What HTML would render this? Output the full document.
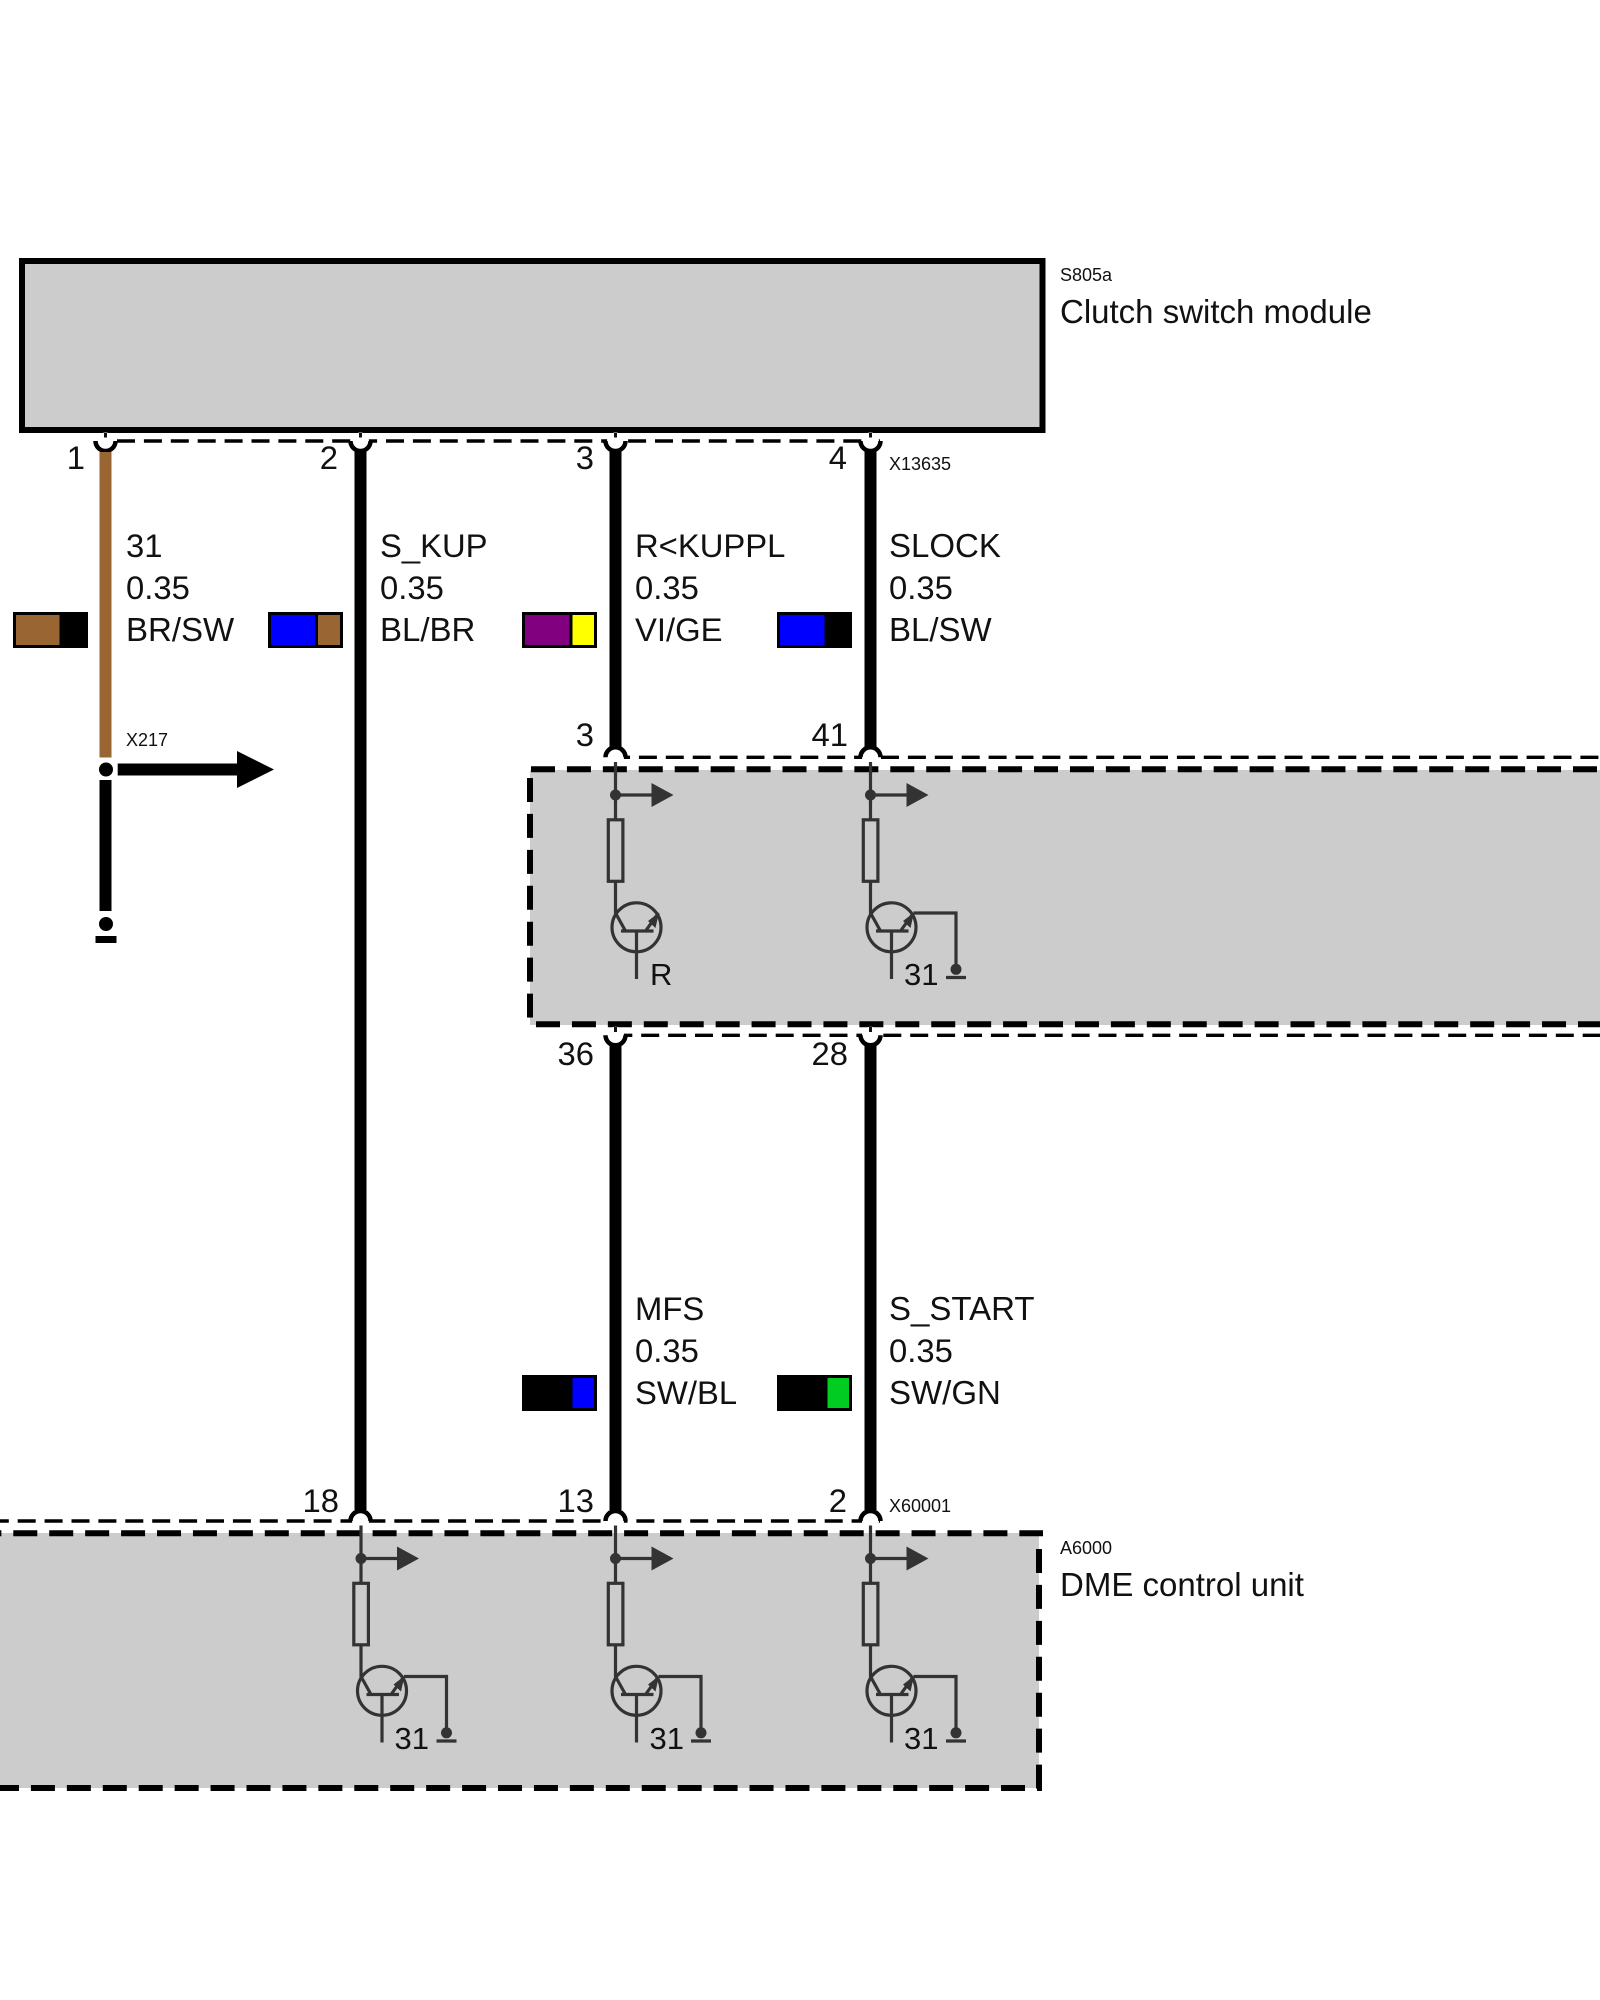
<!DOCTYPE html>
<html><head><meta charset="utf-8"><title>Clutch switch wiring</title>
<style>
html,body{margin:0;padding:0;background:#fff}
svg{display:block}
text{font-family:"Liberation Sans",sans-serif;fill:#111}
.l{font-size:32.8px}.t{font-size:33px}.s{font-size:18px}.m{font-size:31px}.e{text-anchor:end}
</style></head><body>
<svg width="1600" height="2000" viewBox="0 0 1600 2000" xmlns="http://www.w3.org/2000/svg">
<defs>
<g id="ckt" fill="none" stroke="#333" stroke-width="3.2">
  <path d="M0 -33V118L10 136"/>
  <rect x="-7.2" y="24.8" width="14.6" height="61.5" fill="#ccc"/>
  <path d="M0 0H37"/>
  <circle cx="0" cy="0" r="5.5" fill="#333" stroke="none"/>
  <polygon points="36,-12 58,0 36,12" fill="#333" stroke="none"/>
  <circle cx="21" cy="132.3" r="24.5"/>
  <path d="M5.5 136H38M21 136V184M30 136L43 118"/>
  <polygon points="43.5,117.5 32.5,126 40,133" fill="#333" stroke="none"/>
</g>
<g id="gnd" fill="none" stroke="#333" stroke-width="3.2">
  <path d="M43 118H85.5V174"/>
  <circle cx="85.5" cy="174.3" r="5.5" fill="#333" stroke="none"/>
  <path d="M75.5 182.5H95.5"/>
</g>
<g id="arcB"><circle cx="0" cy="0" r="8.5" fill="#fff"/><path d="M-10 0A10 10 0 0 0 10 0" fill="none" stroke="#000" stroke-width="4.5"/></g>
<g id="arcT"><circle cx="0" cy="0" r="8.5" fill="#fff"/><path d="M-10 0A10 10 0 0 1 10 0" fill="none" stroke="#000" stroke-width="4.5"/></g>
</defs>

<rect width="1600" height="2000" fill="#fff"/>

<!-- top module -->
<rect x="22" y="261" width="1020.5" height="169" fill="#ccc" stroke="#000" stroke-width="6"/>

<!-- middle module -->
<rect x="530" y="770" width="1070" height="255" fill="#ccc"/>
<path d="M531 769.3H1600" stroke="#000" stroke-width="6" stroke-dasharray="24 11.93" fill="none"/>
<path d="M530 778V1020" stroke="#000" stroke-width="6" stroke-dasharray="24 11.93" fill="none"/>
<path d="M536 1024.3H1600" stroke="#000" stroke-width="6" stroke-dasharray="24 11.93" fill="none"/>

<!-- bottom module -->
<rect x="0" y="1533" width="1039" height="255" fill="#ccc"/>
<path d="M-22.63 1533.3H1043" stroke="#000" stroke-width="6" stroke-dasharray="24 11.93" fill="none"/>
<path d="M1039 1549V1790" stroke="#000" stroke-width="6" stroke-dasharray="24 11.93" fill="none"/>
<path d="M-5 1788H1042" stroke="#000" stroke-width="6" stroke-dasharray="24 11.93" fill="none"/>

<!-- thin dashed connector lines -->
<g stroke="#000" stroke-width="3.4" fill="none" stroke-dasharray="18 8.9">
  <path d="M117 441H880"/>
  <path d="M612 757.3H1600"/>
  <path d="M614.3 1035.3H1600"/>
  <path d="M-9.2 1521H880"/>
</g>

<!-- arcs -->
<use href="#arcB" x="105.5" y="441"/><use href="#arcB" x="360.5" y="441"/><use href="#arcB" x="615.5" y="441"/><use href="#arcB" x="870.5" y="441"/>
<use href="#arcT" x="615.5" y="757.3"/><use href="#arcT" x="870.5" y="757.3"/>
<use href="#arcB" x="615.5" y="1035.3"/><use href="#arcB" x="870.5" y="1035.3"/>
<use href="#arcT" x="360.5" y="1521"/><use href="#arcT" x="615.5" y="1521"/><use href="#arcT" x="870.5" y="1521"/>

<!-- stubs -->
<g stroke="#111" stroke-width="3">
  <path d="M105.5 433V437.5M360.5 433V437.5M615.5 433V437.5M870.5 433V437.5"/>
  <path d="M615.5 1027V1032M870.5 1027V1032"/>
</g>

<!-- wires -->
<rect x="99.5" y="452" width="12" height="305.5" fill="#996633"/>
<rect x="99.5" y="780" width="12" height="131" fill="#000"/>
<rect x="354.5" y="451" width="12" height="1059" fill="#000"/>
<rect x="609.5" y="451" width="12" height="297" fill="#000"/>
<rect x="864.5" y="451" width="12" height="297" fill="#000"/>
<rect x="609.5" y="1045" width="12" height="465" fill="#000"/>
<rect x="864.5" y="1045" width="12" height="465" fill="#000"/>

<!-- X217 junction -->
<rect x="117.7" y="763.5" width="122" height="12" fill="#000"/>
<polygon points="237,751 274,769.5 237,788" fill="#000"/>
<circle cx="106" cy="769.5" r="7" fill="#000"/>
<circle cx="106" cy="924" r="7" fill="#000"/>
<rect x="95.5" y="936" width="21" height="7" fill="#000"/>

<!-- swatches -->
<g stroke="#000" stroke-width="3">
  <rect x="14.5" y="613.5" width="72" height="33" fill="#996633"/><rect x="61" y="613.5" width="25.5" height="33" fill="#000"/>
  <rect x="269.5" y="613.5" width="72" height="33" fill="#996633"/><rect x="269.5" y="613.5" width="47" height="33" fill="#0000ff"/>
  <rect x="523.5" y="613.5" width="72" height="33" fill="#ffff00"/><rect x="523.5" y="613.5" width="47.5" height="33" fill="#800080"/>
  <rect x="778.5" y="613.5" width="72" height="33" fill="#000"/><rect x="778.5" y="613.5" width="47.5" height="33" fill="#0000ff"/>
  <rect x="523.5" y="1376.5" width="72" height="33" fill="#0000ff"/><rect x="523.5" y="1376.5" width="47.5" height="33" fill="#000"/>
  <rect x="778.5" y="1376.5" width="72" height="33" fill="#00cc22"/><rect x="778.5" y="1376.5" width="47.5" height="33" fill="#000"/>
</g>

<!-- circuits -->
<use href="#ckt" x="615.5" y="795"/>
<use href="#ckt" x="870.5" y="795"/><use href="#gnd" x="870.5" y="795"/>
<use href="#ckt" x="361" y="1558.5"/><use href="#gnd" x="361" y="1558.5"/>
<use href="#ckt" x="615.5" y="1558.5"/><use href="#gnd" x="615.5" y="1558.5"/>
<use href="#ckt" x="870.5" y="1558.5"/><use href="#gnd" x="870.5" y="1558.5"/>

<!-- pin labels -->
<text class="l e" x="85" y="469">1</text>
<text class="l e" x="338" y="469">2</text>
<text class="l e" x="594" y="469">3</text>
<text class="l e" x="847" y="469">4</text>
<text class="l e" x="594" y="746">3</text>
<text class="l e" x="848" y="746">41</text>
<text class="l e" x="594" y="1065">36</text>
<text class="l e" x="848" y="1065">28</text>
<text class="l e" x="339" y="1512">18</text>
<text class="l e" x="594" y="1512">13</text>
<text class="l e" x="847" y="1512">2</text>

<!-- wire labels -->
<text class="l" x="126" y="557">31</text><text class="l" x="126" y="599">0.35</text><text class="t" x="126" y="641">BR/SW</text>
<text class="l" x="380" y="557">S_KUP</text><text class="l" x="380" y="599">0.35</text><text class="t" x="380" y="641">BL/BR</text>
<text class="l" x="635" y="557">R&lt;KUPPL</text><text class="l" x="635" y="599">0.35</text><text class="l" x="635" y="641">VI/GE</text>
<text class="t" x="889" y="557">SLOCK</text><text class="l" x="889" y="599">0.35</text><text class="t" x="889" y="641">BL/SW</text>
<text class="l" x="635" y="1320">MFS</text><text class="l" x="635" y="1362">0.35</text><text class="l" x="635" y="1404">SW/BL</text>
<text class="t" x="889" y="1320">S_START</text><text class="l" x="889" y="1362">0.35</text><text class="t" x="889" y="1404">SW/GN</text>

<!-- small labels -->
<text class="s" x="1060" y="281">S805a</text>
<text class="t" x="1060" y="323">Clutch switch module</text>
<text class="s" x="889" y="470">X13635</text>
<text class="s" x="126" y="746">X217</text>
<text class="s" x="889" y="1512">X60001</text>
<text class="s" x="1060" y="1554">A6000</text>
<text class="t" x="1060" y="1596">DME control unit</text>

<!-- internal labels -->
<text class="m" x="650" y="985">R</text>
<text class="m" x="904" y="985">31</text>
<text class="m" x="394.5" y="1749">31</text>
<text class="m" x="649.5" y="1749">31</text>
<text class="m" x="904" y="1749">31</text>
</svg>
</body></html>
